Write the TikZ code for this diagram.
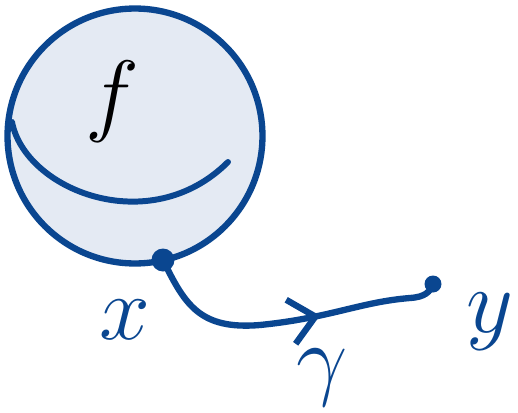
\RequirePackage{fix-cm}
\documentclass[tikz,border=0pt]{standalone}
\usepackage{xcolor}
\usepackage{tikz}
\usetikzlibrary{arrows.meta,decorations.markings}
\definecolor{ink}{HTML}{0A4690}
\definecolor{paper}{HTML}{E4EAF3}

\begin{document}
\begin{tikzpicture}[x=0.02cm,y=-0.02cm,
    every node/.style={font=\fontsize{52}{60}\selectfont,text=ink},
    pin/.style={circle,fill=ink,inner sep=0pt}]
        \useasboundingbox (0,0) rectangle (518,413);
        \node[circle,draw=ink,fill=paper,line width=3.6pt,minimum size=5.1cm,inner sep=0pt] (sphere) at (135,136) {};
        \draw[ink,line width=3.4pt,line cap=round] (12,122) .. controls (25,190) and (150,240) .. (228,162);
        \node[text=black] (f) at (112,102) {$f$};
        \node[pin,minimum size=0.46cm] (x) at (163,260) {};
        \node[pin,minimum size=0.34cm] (y) at (433,284) {};
        \draw[ink,line width=3.6pt,line cap=round,
              postaction={decorate},
              decoration={markings,mark=at position 0.61 with {\arrow{Straight Barb[length=0.5cm,width=0.9cm,line width=3.6pt]}}}]
              (x.center) .. controls (185,305) and (200,330) .. (260,325)
              .. controls (330,318) and (360,302) .. (410,298)
              .. controls (425,297) and (430,292) .. (y.center);
        \node (xl) at (125,320) {$x$};
        \node (gl) at (322,378) {$\gamma$};
        \node (yl) at (490,322) {$y$};
      \end{tikzpicture}
\end{document}
